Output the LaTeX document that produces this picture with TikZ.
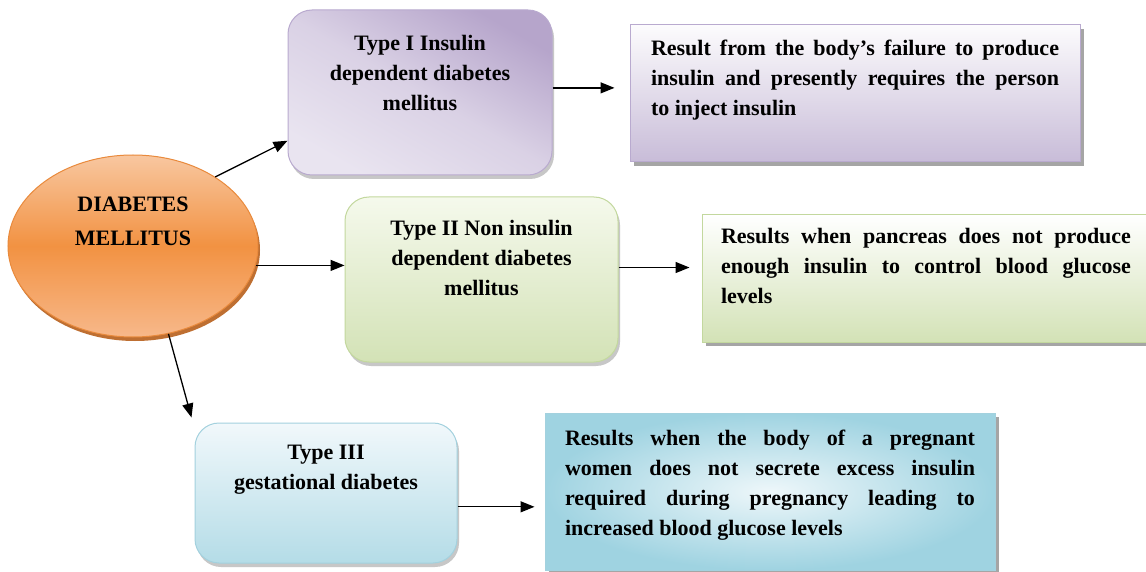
\documentclass[tikz,border=0pt]{standalone}
\usepackage{fontspec}
\setmainfont{Liberation Serif}
\usetikzlibrary{shapes.geometric,arrows.meta,shadows,calc}
\definecolor{orTop}{HTML}{F8C7A0}
\definecolor{orMid}{HTML}{F29242}
\definecolor{orBot}{HTML}{F7B88A}
\definecolor{orLine}{HTML}{E98A3C}
\definecolor{orShadow}{HTML}{B8601C}
\definecolor{puDark}{HTML}{B6A5CB}
\definecolor{puLight}{HTML}{E9E4F0}
\definecolor{puLine}{HTML}{B9AACF}
\definecolor{puRes}{HTML}{C8BCD8}
\definecolor{grLight}{HTML}{F5F9EC}
\definecolor{grDark}{HTML}{D3E2B6}
\definecolor{grLine}{HTML}{C3D89E}
\definecolor{blLight}{HTML}{F1F8FB}
\definecolor{blDark}{HTML}{B4DCE7}
\definecolor{blLine}{HTML}{A3D1DE}
\definecolor{blOuter}{HTML}{9FD3E1}
\definecolor{blInner}{HTML}{EEF7FA}
\begin{document}
\begin{tikzpicture}[x=1pt,y=-1pt,
  every node/.style={font=\fontsize{22}{30}\selectfont\bfseries},
  typebox/.style={rectangle, rounded corners=24pt, inner sep=0pt, line width=1pt,
     drop shadow={shadow xshift=2pt, shadow yshift=-4pt, fill=black!40, opacity=0.55}},
  resbox/.style={rectangle, inner sep=0pt, line width=1pt,
     drop shadow={shadow xshift=4pt, shadow yshift=-4pt, fill=black!50, opacity=0.7}},
  conn/.style={-{Triangle[length=14pt,width=11pt]}, line width=1.3pt, black}]
\clip (0,0) rectangle (1146,572);
\fill[white] (0,0) rectangle (1146,572);

% main ellipse
\node[ellipse, minimum width=250pt, minimum height=182pt, inner sep=0pt,
      draw=orLine, line width=1pt, top color=orTop, bottom color=orBot, middle color=orMid,
      drop shadow={shadow xshift=2pt, shadow yshift=-4pt, fill=orShadow, opacity=0.9}]
  (dm) at (133,246)
  {\parbox[c][120pt][t]{150pt}{\fontsize{22}{34}\selectfont\centering\vspace*{11pt}DIABETES\\MELLITUS}};

% type boxes
\node[typebox, draw=puLine, top color=puDark, bottom color=puLight, middle color=puLight!70!puDark, shading angle=-30,
      minimum width=264pt, minimum height=165pt] (t1) at (420,92.5)
  {\parbox[c][165pt][t]{250pt}{\centering\vspace*{25pt}Type I Insulin\\dependent diabetes\\mellitus}};

\node[typebox, draw=grLine, top color=grLight, bottom color=grDark,
      minimum width=273pt, minimum height=165pt] (t2) at (481.5,279.5)
  {\parbox[c][165pt][t]{260pt}{\centering\vspace*{23pt}Type II Non insulin\\dependent diabetes\\mellitus}};

\node[typebox, draw=blLine, top color=blLight, bottom color=blDark,
      minimum width=262pt, minimum height=140pt] (t3) at (326,493)
  {\parbox[c][140pt][t]{250pt}{\centering\vspace*{22pt}Type III\\gestational diabetes}};

% result boxes
\node[resbox, draw=puLine, top color=white!96!puDark, bottom color=puRes,
      minimum width=450pt, minimum height=137pt] (r1) at (855,93.5)
  {\parbox[c][137pt][t]{408pt}{\vspace*{15pt}Result from the body’s failure to produce\linebreak
   insulin and presently requires the person\linebreak to inject insulin}};

\node[resbox, draw=grLine, top color=white, bottom color=grDark,
      minimum width=448pt, minimum height=127pt] (r2) at (926,278.5)
  {\parbox[c][127pt][t]{410pt}{\vspace*{13pt}Results when pancreas does not produce\linebreak
   enough insulin to control blood glucose\linebreak levels}};

\node[resbox, draw=blLine, inner color=blInner, outer color=blOuter,
      minimum width=450pt, minimum height=157pt] (r3) at (770,491.5)
  {\parbox[c][157pt][t]{410pt}{\vspace*{17pt}Results when the body of a pregnant\linebreak
   women does not secrete excess insulin\linebreak required during pregnancy leading to\linebreak
   increased blood glucose levels}};

% connectors
\draw[conn] (dm.40) -- (t1.200);
\draw[conn] (dm.-9) -- (dm.-9 -| t2.west);
\coordinate (t3tip) at ($(t3.north west)+(-3,-5)$);
\draw[conn] (dm.-68) -- (t3tip);
\draw[conn, shorten >=15pt] (t1.2) -- (t1.2 -| r1.west);
\draw[conn, shorten >=12pt] (t2.5) -- (t2.5 -| r2.west);
\draw[conn, shorten >=10pt] (t3.-6) -- (t3.-6 -| r3.west);
\end{tikzpicture}
\end{document}
